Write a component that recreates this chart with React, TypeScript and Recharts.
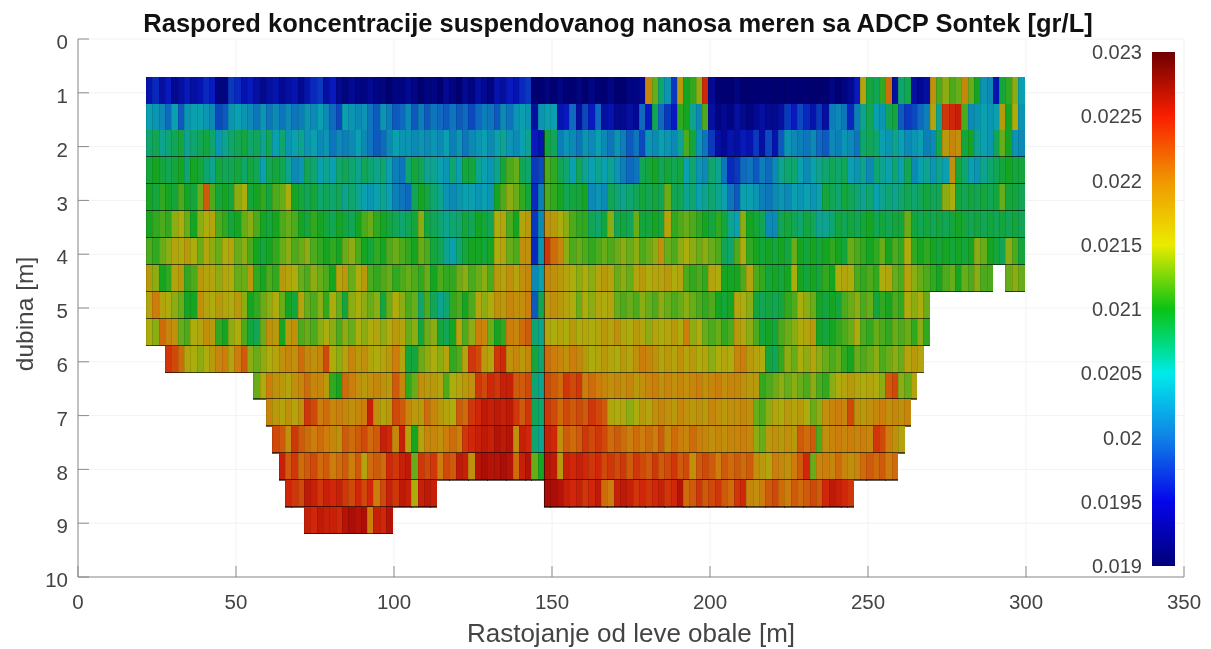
import { BarChart, Bar, XAxis, YAxis, CartesianGrid, ReferenceLine } from "recharts"

// concentration readings in 1e-4 gr/L, one list per depth cell, left to right in 2 m bins from 21.5 m
const blank = (n: number) => Array(n).fill(null)

const depth07 = [194,196,193,195,192,193,195,193,194,196,195,191,191,
  197,196,194,195,193,192,193,194,192,193,194,192,194,196,197,
  193,195,192,191,192,191,191,192,191,191,190,191,191,192,191,190,191,
  191,190,192,191,190,192,191,193,192,191,194,193,195,194,196,
  197,190,190,191,190,191,190,190,191,190,191,190,190,191,190,190,191,191,192,
  219,213,207,204,197,217,210,211,214,225,192,
  190,190,190,191,190,190,190,190,190,190,190,190,190,190,190,190,190,190,191,190,191,192,195,
  216,209,208,211,221,193,207,208,193,192,193,218,212,214,212,213,219,213,210,204,203,194,209,211,214,205]
const depth12 = [205,204,203,200,205,199,204,205,205,204,203,198,199,
  204,205,204,203,201,204,201,203,201,203,201,202,204,203,205,
  203,200,198,205,204,203,204,201,199,204,202,199,200,203,199,202,199,
  201,200,199,201,199,200,198,200,202,201,199,203,201,204,205,
  204,193,204,205,205,194,195,200,193,198,195,200,193,194,192,192,193,192,200,
  195,208,200,197,195,211,210,206,203,212,193,
  191,192,191,193,192,191,192,193,192,192,193,197,195,198,196,194,197,193,202,203,201,196,202,
  206,208,205,204,208,209,199,197,198,200,202,216,206,224,225,226,212,203,204,205,204,205,217,210,215,204]
const depth17 = [207,208,206,207,208,209,206,207,208,209,207,204,206,
  207,208,209,207,208,206,208,205,207,204,205,206,204,205,203,
  204,201,203,202,203,205,203,201,199,200,203,205,204,204,203,204,203,
  204,203,205,202,204,201,203,204,205,203,205,206,204,203,205,
  206,195,194,209,208,202,204,203,201,204,203,205,203,201,204,202,199,201,198,
  204,203,205,204,203,206,212,209,204,201,197,
  193,192,194,193,195,194,197,193,198,194,199,204,203,202,201,203,200,199,203,202,204,203,201,
  207,208,207,205,204,206,205,203,204,205,202,203,208,217,219,218,209,210,206,205,204,208,213,210,204,203]
const depth22 = [209,210,209,208,209,210,207,210,209,207,206,209,208,
  208,209,207,209,208,205,208,209,208,206,203,204,208,207,205,
  206,205,207,208,207,206,208,207,206,207,205,202,201,207,209,208,206,
  206,205,204,207,205,209,209,206,205,204,206,209,212,213,208,
  207,197,198,212,211,208,207,205,208,206,205,206,205,206,204,202,200,201,208,209,210,208,209,208,209,205,207,204,203,207,206,201,196,
  197,200,201,199,202,200,203,206,207,207,205,203,205,206,207,208,207,208,205,204,206,203,207,206,205,207,205,208,203,205,206,204,206,205,218,209,207,205,204,206,207,208,209,210,209,209]
const depth27 = [210,209,211,210,209,212,210,209,213,222,212,209,210,
  209,214,215,209,210,211,209,212,213,215,210,209,208,209,207,
  208,207,208,206,207,206,205,204,205,206,205,202,201,200,208,210,209,
  207,206,204,203,204,205,205,204,205,204,210,212,214,213,211,
  209,196,202,212,211,210,208,209,209,210,203,204,203,208,207,206,207,208,209,208,209,208,213,208,208,206,207,205,206,207,206,205,201,
  199,205,205,204,202,201,203,204,203,205,204,205,204,205,209,208,207,209,208,207,206,207,205,206,207,206,207,208,207,208,209,208,208,214,215,209,208,209,208,209,208,209,213,209,209,208]
const depth32 = [210,211,212,211,214,215,213,210,214,215,216,212,211,
  209,210,213,214,212,210,209,210,212,213,212,210,209,211,210,
  209,208,210,209,208,210,212,213,211,210,209,208,207,208,209,214,209,
  208,207,206,207,207,209,208,210,209,208,215,216,212,210,216,
  217,197,203,218,217,215,214,212,211,211,208,207,209,214,208,209,208,213,209,209,210,209,216,211,212,213,212,211,210,209,211,209,206,
  205,214,210,209,208,203,203,208,209,208,207,209,208,206,206,207,209,208,209,208,209,210,208,209,208,209,209,213,209,208,209,208,209,208,209,210,209,208,209,208,209,208,209,208,209,208]
const depth37 = [212,211,213,214,216,215,217,215,213,216,214,213,215,
  216,213,214,212,210,209,210,211,213,214,212,213,214,212,211,
  210,211,210,213,214,212,210,209,211,210,212,213,212,211,210,213,212,
  209,208,206,205,207,209,210,210,209,210,215,216,213,212,218,
  218,196,204,224,221,219,214,212,213,212,211,212,213,212,213,214,213,214,212,213,214,218,213,212,214,215,214,213,214,213,212,208,207,
  212,215,211,210,209,210,209,210,209,213,210,209,210,209,210,211,210,209,213,212,211,210,211,213,210,212,211,215,211,210,211,210,209,210,209,210,209,210,214,213,210,209,208,214,212,209]
const depth42 = [217,214,210,211,216,217,211,212,217,216,216,214,216,
  215,213,213,217,211,210,212,211,217,216,215,213,212,214,213,
  212,210,216,217,213,215,217,212,211,212,213,211,212,213,212,211,213,
  210,212,211,211,213,214,212,213,214,212,217,216,218,216,218,
  219,203,205,219,218,217,216,215,214,215,214,216,217,216,213,214,213,216,217,215,216,216,217,215,216,212,211,212,211,216,215,210,210,
  210,212,216,212,211,209,210,209,210,215,210,209,210,209,211,210,215,216,215,212,211,212,211,215,216,213,212,216,214,213,212,211,210,212,213,210,213,212,214,212,212,null,null,213,214,213]
const depth47 = [216,220,216,215,214,213,210,210,218,216,215,217,216,215,217,214,210,211,213,214,215,213,210,209,216,213,212,214,211,215,213,209,214,215,214,213,214,209,213,215,214,212,213,207,212,
  208,206,207,211,212,210,212,216,214,215,218,217,219,218,218,
  220,199,208,217,218,217,216,215,213,215,214,216,215,216,213,212,213,212,214,213,212,214,213,212,213,214,213,212,211,212,210,209,210,
  216,215,214,209,208,209,208,209,211,212,215,214,213,210,209,210,209,212,213,214,212,213,209,211,210,212,211,215,214,215,213]
const depth52 = [215,214,221,219,218,213,212,215,216,218,217,211,210,214,215,212,209,208,213,218,217,210,217,218,212,213,212,214,215,214,212,214,213,215,214,215,216,214,215,217,216,213,214,209,213,
  214,209,208,210,216,212,214,220,219,213,210,211,220,219,221,
  222,207,206,216,215,216,215,217,215,216,215,216,217,216,218,216,215,217,216,214,216,215,216,217,215,220,214,215,213,212,213,211,212,
  217,216,214,212,209,210,209,212,213,214,215,216,217,210,209,210,211,212,213,215,212,211,213,212,211,213,212,213,211,214,211]
const depth57 = [...blank(3),224,223,221,216,215,214,215,217,219,220,216,220,222,214,213,214,215,216,218,219,218,221,219,218,219,223,215,214,216,219,217,218,216,215,216,217,220,216,209,209,213,214,
  215,214,216,211,212,216,224,223,217,216,224,225,218,219,217,
  219,209,207,221,220,219,218,220,219,217,215,216,217,216,215,217,216,218,220,219,218,216,217,216,218,216,217,215,216,214,215,216,215,
  219,220,217,216,215,209,208,211,214,213,215,214,216,214,213,212,213,211,210,213,212,213,214,212,213,214,213,216,217,216]
const depth62 = [...blank(17),213,215,220,218,217,216,218,219,221,219,219,217,211,210,221,220,218,217,218,219,218,217,222,219,211,213,218,217,
  217,216,212,215,216,217,218,224,223,225,224,226,226,222,222,
  223,207,206,223,222,221,224,223,224,220,221,220,219,218,219,218,219,217,218,219,220,218,219,218,219,218,219,220,218,219,220,218,219,
  219,218,217,217,211,212,213,214,213,214,213,212,214,212,211,214,215,216,217,216,215,216,215,214,222,223,214,213,216]
const depth67 = [...blank(19),219,217,216,218,216,218,224,223,220,221,219,220,219,218,219,220,226,218,216,217,223,222,219,217,217,221,
  219,217,216,215,222,221,224,225,227,226,227,226,227,224,222,
  224,208,207,224,223,221,223,222,223,222,224,223,222,216,215,216,214,215,217,216,218,219,218,217,219,218,217,218,217,219,218,217,218,
  218,219,218,213,212,214,216,215,217,216,217,215,213,214,218,219,220,219,223,218,217,218,219,220,218,219,218,219]
const depth72 = [...blank(20),223,222,218,224,222,221,220,221,220,219,218,222,221,222,223,221,222,226,225,219,226,216,210,216,219,
  219,218,220,221,220,224,225,226,227,226,228,227,228,218,226,
  225,207,206,226,225,218,222,221,222,224,223,224,223,221,222,221,220,221,220,221,220,222,219,221,220,219,221,220,219,218,219,218,219,
  219,220,219,214,213,217,218,217,218,217,222,221,222,212,218,219,220,219,220,219,220,219,224,223,220,218,216]
const depth77 = [...blank(21),226,222,224,221,222,223,221,222,220,221,222,220,222,216,221,222,221,225,224,226,227,213,224,223,
  224,220,223,222,227,226,218,228,229,228,228,229,228,221,226,
  228,213,210,228,227,217,226,225,226,225,224,225,223,224,223,224,222,224,223,222,224,222,223,224,222,223,218,222,223,222,220,222,221,
  222,221,222,218,217,216,220,219,218,220,222,225,213,219,220,219,221,219,218,219,221,222,221,222,220,221]
const depth82 = [...blank(22),225,224,223,227,226,224,226,225,226,224,223,225,223,225,220,223,226,224,227,226,215,226,227,226,
  ...blank(17),229,229,228,226,225,226,224,225,227,221,220,226,227,226,224,225,224,225,226,224,225,228,221,222,224,222,223,224,222,221,
  224,225,219,218,220,222,223,221,220,222,221,222,223,222,225,227,226,225,224]
const depth87 = [...blank(25),226,225,227,226,226,225,228,229,228,229,220,226,225,228]

const depthRows = [depth07, depth12, depth17, depth22, depth27, depth32, depth37, depth42, depth47, depth52, depth57, depth62, depth67, depth72, depth77, depth82, depth87]

const xTicks = [0, 50, 100, 150, 200, 250, 300, 350]
const yTicks = [0, 1, 2, 3, 4, 5, 6, 7, 8, 9, 10]
const barTicks = [0.019, 0.0195, 0.02, 0.0205, 0.021, 0.0215, 0.022, 0.0225, 0.023]
// colour bar as printed
const barStops = [
  [190, 0, 0, 120],
  [195, 5, 5, 235],
  [200, 15, 130, 230],
  [205, 0, 235, 235],
  [207, 0, 220, 140],
  [210, 10, 195, 20],
  [215, 235, 235, 0],
  [220, 240, 150, 0],
  [225, 250, 30, 0],
  [230, 110, 0, 0],
]
// the cells read darker than the bar because of their black mesh edges
const cellStops = [
  [190, 0, 0, 115],
  [195, 8, 25, 190],
  [200, 15, 105, 190],
  [205, 10, 160, 175],
  [207, 15, 165, 110],
  [210, 22, 165, 35],
  [213, 105, 172, 25],
  [215, 172, 172, 12],
  [220, 205, 125, 12],
  [225, 208, 38, 10],
  [230, 160, 8, 5],
]

const FONT = "'Liberation Sans', Arial, sans-serif"
const CELL_HEIGHT = 0.5
const TOP_DEPTH = 0.7

const table = depth07.map((_, i) => {
  const row: Record<string, number | null> = { x: 22.5 + 2 * i, gap: TOP_DEPTH }
  depthRows.forEach((r, k) => {
    row["d" + k] = r[i] == null ? null : CELL_HEIGHT
  })
  return row
})

function heatColor(v: number) {
  let a = cellStops[0]
  let b = cellStops[cellStops.length - 1]
  for (let i = 0; i < cellStops.length - 1; i++) {
    if (v >= cellStops[i][0] && v <= cellStops[i + 1][0]) {
      a = cellStops[i]
      b = cellStops[i + 1]
      break
    }
  }
  const t = (v - a[0]) / (b[0] - a[0])
  const mix = (n: number) => Math.round(a[n] + (b[n] - a[n]) * t)
  return `rgb(${mix(1)},${mix(2)},${mix(3)})`
}

// y axis is reversed, so the bar height comes in negative
function cellShape(k: number) {
  return (props: any) => {
    const v = depthRows[k][props.index]
    if (v == null || !props.height) return null
    const top = Math.min(props.y, props.y + props.height)
    const h = Math.abs(props.height)
    const { x, width } = props
    return (
      <g shapeRendering="crispEdges">
        <rect x={x} y={top} width={width + 1} height={h} fill={heatColor(v)} />
        <rect x={x} y={top} width={1} height={h} fill="#000" fillOpacity={0.1} />
        {k > 1 && <rect x={x} y={top + h - 1} width={width + 1} height={1.5} fill="#000" fillOpacity={0.62} />}
      </g>
    )
  }
}

const axisText = { fontFamily: FONT, fontSize: 20.5, fill: "#444" }

export default function App() {
  return (
    <div style={{ position: "absolute", left: 0, top: 0, width: 1211, height: 649, background: "#fff", overflow: "hidden", filter: "blur(0.6px)" }}>
      <BarChart width={1211} height={649} data={table} barSize={6.32} margin={{ top: 39, right: 27, bottom: 0, left: 0 }}>
        <CartesianGrid stroke="#f2f2f2" />
        <XAxis
          dataKey="x"
          type="number"
          domain={[0, 350]}
          ticks={xTicks}
          height={72}
          stroke="#8a8a8a"
          tickSize={-11}
          tickMargin={28}
          tick={axisText}
          interval={0}
        />
        <YAxis
          type="number"
          reversed
          domain={[0, 10]}
          ticks={yTicks}
          width={78}
          stroke="#8a8a8a"
          tickSize={-11}
          tickMargin={21}
          tick={{ ...axisText, dy: 3 }}
          interval={0}
        />
        <Bar dataKey="gap" stackId="cells" fill="none" isAnimationActive={false} />
        {depthRows.map((_, k) => (
          <Bar key={k} dataKey={"d" + k} stackId="cells" shape={cellShape(k)} isAnimationActive={false} />
        ))}
        <ReferenceLine segment={[{ x: 147.6, y: 1.7 }, { x: 147.6, y: 8.7 }]} stroke="#000" strokeOpacity={0.5} />
        <text x={618} y={32} textAnchor="middle" fontFamily={FONT} fontWeight="bold" fontSize={25.5} fill="#111">
          Raspored koncentracije suspendovanog nanosa meren sa ADCP Sontek [gr/L]
        </text>
        <text x={631} y={642} textAnchor="middle" fontFamily={FONT} fontSize={26} fill="#444">
          Rastojanje od leve obale [m]
        </text>
        <text transform="translate(33,314) rotate(-90)" textAnchor="middle" fontFamily={FONT} fontSize={24.5} fill="#444">
          dubina [m]
        </text>
      </BarChart>
      <div style={{ position: "absolute", left: 1060, top: 0 }}>
        <BarChart
          width={115}
          height={649}
          data={[{ name: "c", range: [0.019, 0.023] }]}
          barCategoryGap={0}
          margin={{ top: 52, right: 0, bottom: 83, left: 0 }}
        >
          <defs>
            <linearGradient id="jetBar" x1="0" y1="1" x2="0" y2="0">
              {barStops.map((s) => (
                <stop key={s[0]} offset={(s[0] - 190) / 40} stopColor={`rgb(${s[1]},${s[2]},${s[3]})`} />
              ))}
            </linearGradient>
          </defs>
          <XAxis dataKey="name" hide />
          <YAxis
            type="number"
            domain={[0.019, 0.023]}
            ticks={barTicks}
            width={92}
            axisLine={false}
            tickLine={false}
            tickMargin={4}
            tick={{ fontFamily: FONT, fontSize: 20, fill: "#444" }}
            interval={0}
          />
          <Bar dataKey="range" fill="url(#jetBar)" isAnimationActive={false} />
        </BarChart>
      </div>
    </div>
  )
}
